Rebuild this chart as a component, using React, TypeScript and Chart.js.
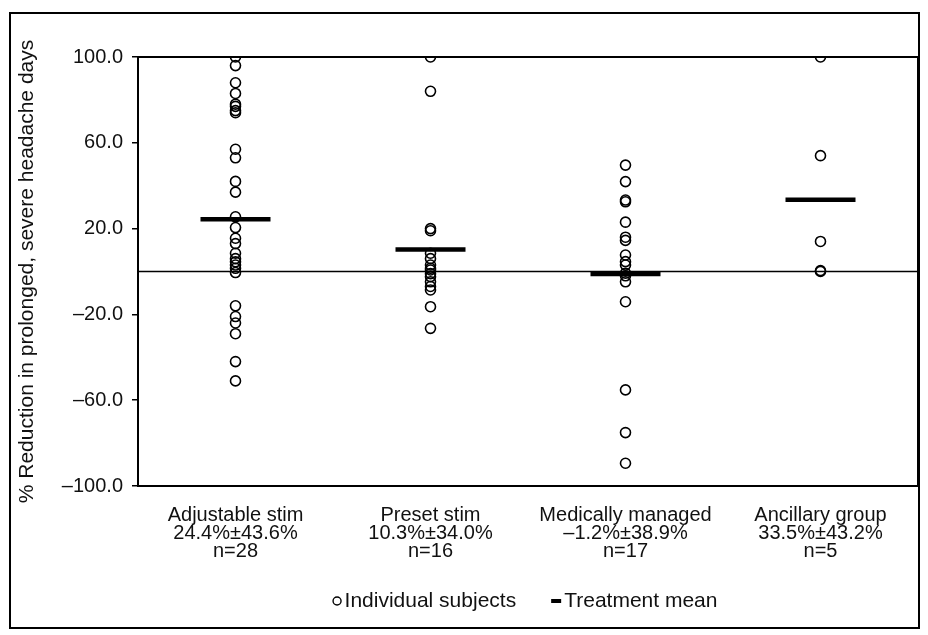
import React, { useEffect, useRef } from "react";
import { Chart, registerables } from "chart.js";

Chart.register(...registerables);

const categories = ["Adjustable stim", "Preset stim", "Medically managed", "Ancillary group"];
const meanSdLabels = ["24.4%\u00b143.6%", "10.3%\u00b134.0%", "\u20131.2%\u00b138.9%", "33.5%\u00b143.2%"];
const nLabels = ["n=28", "n=16", "n=17", "n=5"];

const adjustableStim = [100, 96, 88, 83, 78, 77, 75, 74, 57, 53, 42, 37, 25.5, 20.5, 15.5, 13, 8.5, 6, 4.5, 3, 1.5, -0.5, -16, -21, -24, -29, -42, -51];
const presetStim = [100, 84, 20, 19, 8.5, 6, 3, 1.5, 0.7, -1, -2.4, -4.8, -7, -8.6, -16.4, -26.5];
const medicallyManaged = [49.6, 41.9, 33.3, 32.5, 23, 16, 14.5, 7.7, 4.6, 3, -0.8, -2, -4.8, -14.1, -55.2, -75.1, -89.4];
const ancillaryGroup = [100, 54, 14, 0.4, 0];
const treatmentMeans = [24.4, 10.3, -1.2, 33.5];

const yMin = -100;
const yMax = 100;
const yStep = 40;

const FONT = "'Liberation Sans', Arial, Helvetica, sans-serif";

const framePlugin = {
  id: "framePlugin",
  beforeDatasetsDraw(chart: any) {
    const { ctx, chartArea, scales } = chart;
    const y0 = scales.y.getPixelForValue(0);
    ctx.save();
    ctx.strokeStyle = "#000";
    ctx.lineWidth = 1.5;
    ctx.beginPath();
    ctx.moveTo(chartArea.left, y0);
    ctx.lineTo(chartArea.right, y0);
    ctx.stroke();
    ctx.restore();
  },
  afterDraw(chart: any) {
    const { ctx, chartArea } = chart;
    ctx.save();
    ctx.strokeStyle = "#000";
    ctx.lineWidth = 2;
    ctx.strokeRect(chartArea.left, chartArea.top, chartArea.right - chartArea.left, chartArea.bottom - chartArea.top);
    ctx.strokeRect(10, 13, 909, 615);

    // legend built from the dataset labels
    const ds = chart.data.datasets;
    const t1 = ds[0].label as string;
    const t2 = ds[1].label as string;
    ctx.font = `21px ${FONT}`;
    ctx.fillStyle = "#111";
    ctx.textBaseline = "middle";
    ctx.textAlign = "left";
    const w1 = ctx.measureText(t1).width;
    const w2 = ctx.measureText(t2).width;
    const circleW = 9;
    const markW = 10;
    const gapInner = 3;
    const gapItems = 35;
    const total = circleW + gapInner + w1 + gapItems + markW + gapInner + w2;
    const cx = (chartArea.left + chartArea.right) / 2 - 3;
    const y = 601;
    let x = cx - total / 2;
    ctx.lineWidth = 1.4;
    ctx.beginPath();
    ctx.arc(x + circleW / 2, y, 4, 0, Math.PI * 2);
    ctx.stroke();
    x += circleW + gapInner;
    ctx.fillText(t1, x, y);
    x += w1 + gapItems;
    ctx.lineWidth = 4;
    ctx.beginPath();
    ctx.moveTo(x, y);
    ctx.lineTo(x + markW, y);
    ctx.stroke();
    x += markW + gapInner;
    ctx.fillText(t2, x, y);
    ctx.restore();
  },
};

export default function App() {
  const canvasRef = useRef<HTMLCanvasElement | null>(null);

  useEffect(() => {
    if (!canvasRef.current) return;
    const groups = [adjustableStim, presetStim, medicallyManaged, ancillaryGroup];
    const subjectPoints: { x: string; y: number }[] = [];
    groups.forEach((vals, i) => {
      vals.forEach((v) => subjectPoints.push({ x: categories[i], y: v }));
    });
    const meanPoints = treatmentMeans.map((m, i) => ({ x: categories[i], y: m }));

    const chart = new Chart(canvasRef.current, {
      type: "line",
      data: {
        labels: categories,
        datasets: [
          {
            label: "Individual subjects",
            data: subjectPoints as any,
            showLine: false,
            pointStyle: "circle",
            pointRadius: 5,
            pointHoverRadius: 5,
            pointBorderWidth: 1.6,
            borderColor: "#000",
            backgroundColor: "rgba(0,0,0,0)",
            pointBackgroundColor: "rgba(0,0,0,0)",
            order: 2,
          },
          {
            label: "Treatment mean",
            data: meanPoints as any,
            showLine: false,
            pointStyle: "line",
            pointRadius: 35,
            pointHoverRadius: 35,
            pointBorderWidth: 4.5,
            borderColor: "#000",
            backgroundColor: "#000",
            order: 1,
          },
        ],
      },
      options: {
        responsive: false,
        animation: false,
        events: [],
        layout: { autoPadding: false, padding: { left: 10, top: 57, right: 10, bottom: 60 } },
        plugins: {
          tooltip: { enabled: false },
          legend: { display: false },
        },
        scales: {
          x: {
            type: "category",
            offset: true,
            grid: { display: true, drawOnChartArea: false, drawTicks: false },
            border: { display: true, color: "#000", width: 2 },
            ticks: {
              color: "#111",
              padding: 20,
              maxRotation: 0,
              autoSkip: false,
              font: { family: FONT, size: 20, lineHeight: "18px" as any },
              callback: (_v: any, i: number) => [categories[i], meanSdLabels[i], nLabels[i]],
            },
            afterFit: (scale: any) => {
              scale.height = 89;
              scale.paddingLeft = 0;
              scale.paddingRight = 0;
            },
          },
          y: {
            type: "linear",
            min: yMin,
            max: yMax,
            grid: { display: true, drawOnChartArea: false, drawTicks: true, tickLength: 6, color: "#000", lineWidth: 1.5 },
            border: { display: true, color: "#000", width: 2 },
            ticks: {
              stepSize: yStep,
              color: "#111",
              padding: 9,
              font: { family: FONT, size: 20 },
              callback: (v: any) => {
                const n = Number(v);
                return n < 0 ? "\u2013" + Math.abs(n).toFixed(1) : n.toFixed(1);
              },
            },
            title: {
              display: true,
              text: "% Reduction in prolonged, severe headache days",
              color: "#111",
              font: { family: FONT, size: 21 },
              padding: { top: 5, bottom: 0 },
            },
            afterFit: (scale: any) => {
              scale.width = 128;
            },
          },
        },
      },
      plugins: [framePlugin],
    });
    return () => chart.destroy();
  }, []);

  return (
    <div style={{ position: "fixed", left: 0, top: 0, width: 928, height: 635, background: "#fff" }}>
      <canvas ref={canvasRef} width={928} height={635} style={{ width: 928, height: 635 }} />
    </div>
  );
}
